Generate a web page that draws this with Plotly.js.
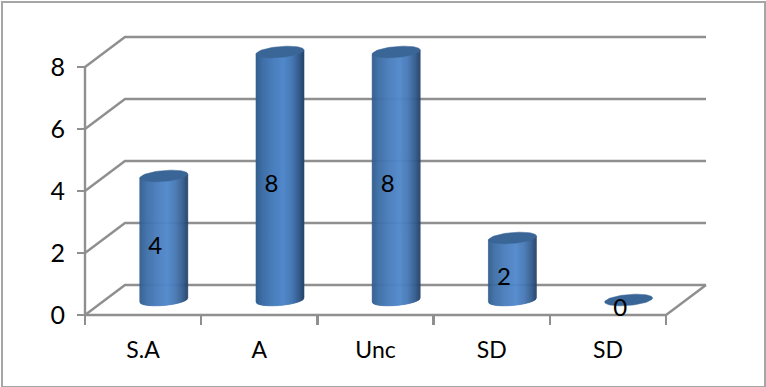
<!DOCTYPE html>
<html>
<head>
<meta charset="utf-8">
<script src="https://cdn.plot.ly/plotly-3.0.1.min.js"></script>
<style>
  html, body { margin: 0; padding: 0; background: #fff; overflow: hidden; }
  #frame { position: absolute; left: 1px; top: 1px; width: 761px; height: 383px; border: 2px solid #a6a6a6; box-sizing: content-box; }
  #chart { position: absolute; left: 0; top: 0; width: 766px; height: 387px; }
</style>
</head>
<body>
<div id="frame"></div>
<div id="chart"></div>
<script>
// Survey responses per answer category
const categories = ["S.A", "A", "Unc", "SD", "SD"];
const values = [4, 8, 8, 2, 0];
const yTicks = [0, 2, 4, 6, 8];

// Pseudo-3D box depth and cylinder size, in axis units
const depthX = 0.344, depthY = 0.968;
const radiusX = 0.2065, radiusY = 0.177, tilt = 0.065;
const gridColor = "#8f8f8f";
const topColor = "#3a6597";
const strips = 48;
const labelFont = "Lato, sans-serif";

// The plot area is slightly larger than the box so its outer lines draw at full width
const padPx = 4, unitX = 116.2, unitY = 31;
const padX = padPx / unitX, padY = padPx / unitY;
const areaW = 629, areaH = 286;

const positions = categories.map((_, i) => i);
const traces = [];

// Side wall, back wall and floor lines
function pushLine(xs, ys) {
  traces.push({ x: xs, y: ys, mode: "lines", line: { color: gridColor, width: 2.4 }, hoverinfo: "skip" });
}
yTicks.forEach(v => {
  pushLine([-0.5, -0.5 + depthX, 4.5 + depthX], [v, v + depthY, v + depthY]);
});
pushLine([-0.5, -0.5], [0, 8]);
pushLine([-0.5, 4.5, 4.5 + depthX], [0, 0, depthY]);

// Horizontal shading across a cylinder body
const shade = [
  [0.00, [50, 92, 140]], [0.12, [62, 110, 165]], [0.35, [74, 126, 189]],
  [0.58, [82, 137, 204]], [0.75, [72, 122, 182]], [0.90, [54, 95, 144]], [1.00, [38, 68, 106]]
];
function shadeAt(p) {
  for (let k = 1; k < shade.length; k++) {
    if (p <= shade[k][0]) {
      const f = (p - shade[k - 1][0]) / (shade[k][0] - shade[k - 1][0]);
      const c = shade[k - 1][1].map((a, j) => Math.round(a + (shade[k][1][j] - a) * f));
      return "rgb(" + c.join(",") + ")";
    }
  }
  return "rgb(38,68,106)";
}

const centerX = i => positions[i] + depthX / 2 + 0.006;

// Cylinder bodies: one trace per shade, one polygon per bar that reaches above zero
for (let s = 0; s < strips; s++) {
  const u0 = -1 + 2 * s / strips, u1 = -1 + 2 * (s + 1) / strips;
  const xs = [], ys = [];
  values.forEach((v, i) => {
    if (v <= 0) return;
    const cx = centerX(i), base = depthY / 2;
    const low = u => base - radiusY * Math.sqrt(Math.max(0, 1 - u * u)) + tilt * u;
    xs.push(cx + radiusX * u0, cx + radiusX * u1, cx + radiusX * u1, cx + radiusX * u0, cx + radiusX * u0, null);
    ys.push(low(u0), low(u1), base + v + tilt * u1, base + v + tilt * u0, low(u0), null);
  });
  const col = shadeAt((s + 0.5) / strips);
  traces.push({ x: xs, y: ys, mode: "lines", fill: "toself", fillcolor: col, line: { color: col, width: 0.6 }, hoverinfo: "skip" });
}

// Cylinder caps
{
  const xs = [], ys = [];
  values.forEach((v, i) => {
    const cx = centerX(i), cy = depthY / 2 + v;
    for (let k = 0; k <= 72; k++) {
      const t = k / 72 * 2 * Math.PI;
      xs.push(cx + radiusX * Math.cos(t));
      ys.push(cy + radiusY * Math.sin(t) + tilt * Math.cos(t));
    }
    xs.push(null); ys.push(null);
  });
  traces.push({ x: xs, y: ys, mode: "lines", fill: "toself", fillcolor: topColor, line: { color: topColor, width: 0.5 }, hoverinfo: "skip" });
}

// Value labels on the cylinders
traces.push({
  x: positions.map(p => p + 0.105),
  y: values.map(v => v / 2 + 0.17),
  text: values.map(String),
  mode: "text",
  textposition: "middle center",
  textfont: { family: labelFont, size: 24, color: "#000" },
  cliponaxis: false,
  hoverinfo: "skip"
});

const layout = {
  width: 766, height: 387,
  margin: { l: 85 - padPx, r: 60 - padPx, t: 37 - padPx, b: 72 - padPx, pad: 0 },
  paper_bgcolor: "rgba(0,0,0,0)", plot_bgcolor: "rgba(0,0,0,0)",
  showlegend: false, hovermode: false,
  font: { family: labelFont, color: "#000" },
  xaxis: {
    type: "linear", range: [-0.5 - padX, 4.5 + depthX + padX], showgrid: false, zeroline: false, showline: false,
    anchor: "free", position: padPx / areaH,
    tickmode: "array", tickvals: positions, ticktext: categories,
    ticks: "outside", ticklen: 14, tickcolor: "rgba(0,0,0,0)",
    tickfont: { size: 23, color: "#000" },
    minor: { tickmode: "array", tickvals: [-0.5, 0.5, 1.5, 2.5, 3.5, 4.5], ticks: "outside", ticklen: 9, tickwidth: 2.4, tickcolor: gridColor, showgrid: false }
  },
  yaxis: {
    range: [-padY, 8 + depthY + padY], showgrid: false, zeroline: false, showline: false,
    anchor: "free", position: padPx / areaW,
    tickmode: "array", tickvals: yTicks, ticktext: yTicks.map(String),
    ticks: "outside", ticklen: 8, tickwidth: 2, tickcolor: gridColor,
    ticklabelstandoff: 7,
    tickfont: { size: 25, color: "#000" }
  }
};

Plotly.newPlot("chart", traces, layout, { displayModeBar: false, staticPlot: true });
</script>
</body>
</html>
